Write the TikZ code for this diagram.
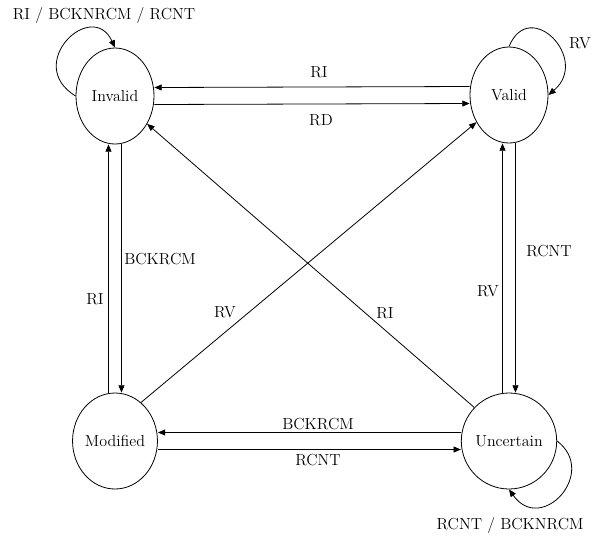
\documentclass[tikz,border=0pt]{standalone}
\usetikzlibrary{shapes.geometric,arrows.meta}
\begin{document}
\begin{tikzpicture}[x=0.75pt,y=-0.75pt,
  state/.style={draw,ellipse,line width=0.6pt,minimum width=58.5pt,minimum height=72pt,inner sep=0pt,font=\fontsize{12}{14}\selectfont},
  lab/.style={inner sep=0pt,font=\fontsize{12}{14}\selectfont},
  arr/.style={line width=0.6pt,-{Triangle[length=5.5pt,width=4.5pt]}}]
\useasboundingbox (0,0) rectangle (597,537);
\node[state] (I) at (115,96) {Invalid};
\node[state] (V) at (509,95) {Valid};
\node[state] (M) at (115,441) {Modified};
\node[state] (U) at (509,441) {Uncertain};
% top pair
\draw[arr] ([yshift=6.375pt]V.west) -- ([yshift=6.375pt]I.east);
\draw[arr] ([yshift=-6.375pt]I.east) -- ([yshift=-6.375pt]V.west);
% left pair
\draw[arr] ([xshift=-4.875pt]M.north) -- ([xshift=-4.875pt]I.south);
\draw[arr] ([xshift=4.875pt]I.south) -- ([xshift=4.875pt]M.north);
% right pair
\draw[arr] ([xshift=-4.875pt]U.north) -- ([xshift=-4.875pt]V.south);
\draw[arr] ([xshift=4.875pt]V.south) -- ([xshift=4.875pt]U.north);
% bottom pair
\draw[arr] ([yshift=6.375pt]U.west) -- ([yshift=6.375pt]M.east);
\draw[arr] ([yshift=-6.375pt]M.east) -- ([yshift=-6.375pt]U.west);
% diagonals
\draw[arr] (M.56) -- (V);
\draw[arr] (U.136) -- (I);
% self loops
\draw[arr] (I.west) .. controls (23,64) and (92,-2) .. (I.north);
\draw[arr] (V.north) .. controls (529.5,-3.6) and (590.8,59.25) .. (V.east);
\draw[arr] (U.east) .. controls (598.6,472.6) and (541.4,535.1) .. (U.south);
% labels
\node[lab] (l1) at (104,15) {RI / BCKNRCM / RCNT};
\node[lab] (l2) at (580,43) {RV};
\node[lab] (l3) at (510,525) {RCNT / BCKNRCM};
\node[lab] (l4) at (319,72) {RI};
\node[lab] (l5) at (321,120) {RD};
\node[lab] (l6) at (160,259) {BCKRCM};
\node[lab] (l7) at (95,299) {RI};
\node[lab] (l8) at (225,312) {RV};
\node[lab] (l9) at (385,313) {RI};
\node[lab] (l10) at (549,251) {RCNT};
\node[lab] (l11) at (488,291) {RV};
\node[lab] (l12) at (318,424) {BCKRCM};
\node[lab] (l13) at (318,460) {RCNT};
\end{tikzpicture}
\end{document}
